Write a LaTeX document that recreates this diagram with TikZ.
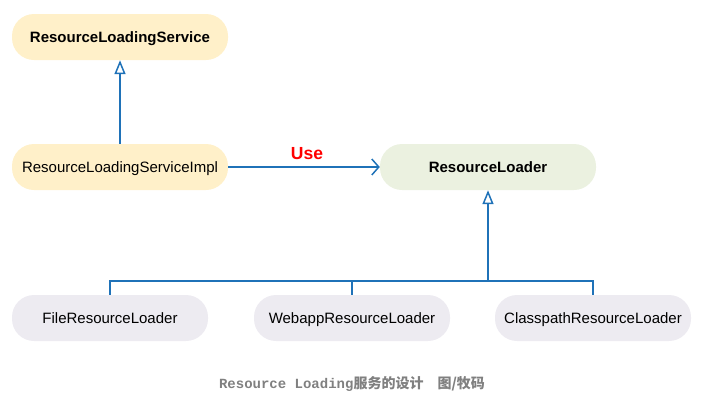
\documentclass[tikz,border=0pt]{standalone}
\usepackage{fontspec}
\setmainfont{Liberation Sans}
\newfontfamily\capfont{Liberation Mono}
\newfontfamily\cjk{Noto Sans CJK SC}
\usetikzlibrary{positioning,arrows.meta}

\definecolor{ifcyellow}{HTML}{FFF0C9}
\definecolor{ifcgreen}{HTML}{EBF1E0}
\definecolor{implgray}{HTML}{EDEBF1}
\definecolor{linkblue}{HTML}{1F72B8}
\definecolor{capgray}{HTML}{808080}

\tikzset{
  box/.style={minimum width=216pt, minimum height=46pt, rounded corners=22pt,
    text height=11pt, text depth=1pt, font=\fontsize{15}{17}\selectfont},
  subbox/.style={box, minimum width=196pt, fill=implgray},
  link/.style={draw=linkblue, line width=1.5pt},
  inherit/.style={link, -{Triangle[open, length=14pt, width=11pt]}},
  use/.style={link, -{Straight Barb[length=7pt, width=16pt]}}
}

\begin{document}
\begin{tikzpicture}[x=1pt, y=-1pt]
    \useasboundingbox (0,0) rectangle (703,407);

    % interface and its implementation
    \node (service) [box, fill=ifcyellow] at (120,37) {\textbf{ResourceLoadingService}};
    \node (impl) [box, fill=ifcyellow] at (120,167) {ResourceLoadingServiceImpl};
    \node (loader) [box, fill=ifcgreen] at (488,167) {\textbf{ResourceLoader}};

    % the three loaders
    \node (file) [subbox] at (110,318) {FileResourceLoader};
    \node (webapp) [subbox] at (352,318) {WebappResourceLoader};
    \node (classpath) [subbox] at (593,318) {ClasspathResourceLoader};

    \coordinate (bus) at (488,281);

    \draw [inherit] (impl) -- (service);
    \draw [use] (impl) -- (loader) node[midway, above=3pt, xshift=3pt] {\fontsize{17.5}{19}\selectfont\bfseries\color{red}Use};

    \draw [link] (file.north) |- (bus);
    \draw [link] (classpath.north) |- (bus);
    \draw [link] (webapp.north) -- (webapp.north |- bus);
    \draw [inherit] (bus) -- (loader.south);

    \node (caption) at (352,384) {\fontsize{14}{16}\selectfont\bfseries\color{capgray}{\capfont Resource Loading}{\cjk 服务的设计\quad 图/牧码}};
\end{tikzpicture}
\end{document}
